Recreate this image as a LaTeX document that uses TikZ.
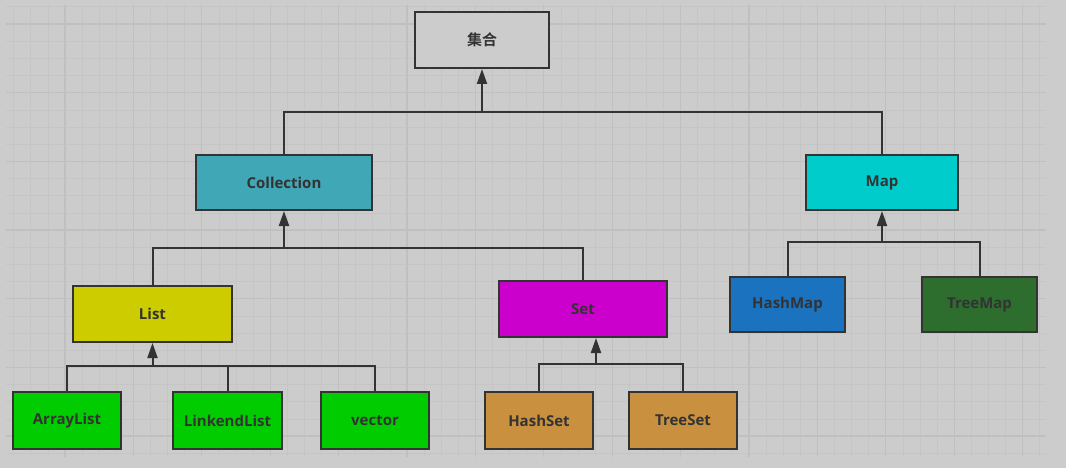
\documentclass[tikz,border=0pt]{standalone}
\usepackage{fontspec}
\setmainfont{Open Sans}
\newfontfamily\cjk{Noto Sans CJK SC}[BoldFont={* Bold}]
\usetikzlibrary{arrows.meta}

\definecolor{bgc}{HTML}{CCCCCC}
\definecolor{gridminor}{HTML}{C5C5C5}
\definecolor{gridmajor}{HTML}{C0C0C0}
\definecolor{linec}{HTML}{333333}
\definecolor{collc}{HTML}{3FA7B6}
\definecolor{mapc}{HTML}{00CCCC}
\definecolor{listc}{HTML}{CCCC00}
\definecolor{setc}{HTML}{CC00CC}
\definecolor{hmapc}{HTML}{1B72BF}
\definecolor{tmapc}{HTML}{2D6E2F}
\definecolor{greenc}{HTML}{00CC00}
\definecolor{orangec}{HTML}{C9913F}

\tikzset{
  box/.style={draw=linec, line width=2pt, text=linec, inner sep=0pt,
    font=\fontsize{15}{17}\selectfont\bfseries},
  link/.style={draw=linec, line width=2pt},
  up/.style={link, -{Triangle[width=10pt,length=15pt]}}
}

\begin{document}
\begin{tikzpicture}[x=1pt, y=-1pt]
  % background
  \useasboundingbox (0,0) rectangle (1066,468);
  \fill[bgc] (0,0) rectangle (1066,468);

  % grid
  \foreach \i in {0,...,60} {
    \pgfmathsetmacro{\gx}{13.8+17.1*\i}
    \draw[gridminor, line width=1pt] (\gx,5) -- (\gx,457);
  }
  \foreach \i in {0,...,26} {
    \pgfmathsetmacro{\gy}{7+17.17*\i}
    \draw[gridminor, line width=1pt] (6,\gy) -- (1046,\gy);
  }
  \foreach \i in {0,...,14} {
    \pgfmathsetmacro{\gx}{65+68.4*\i}
    \draw[gridmajor, line width=1.2pt] (\gx,5) -- (\gx,457);
  }
  \foreach \i in {0,...,6} {
    \pgfmathsetmacro{\gy}{24+68.67*\i}
    \draw[gridmajor, line width=1.2pt] (6,\gy) -- (1046,\gy);
  }

  % boxes
  \node[box, fill=bgc, minimum width=134, minimum height=56] (top) at (482,40) {\cjk\bfseries 集合};
  \node[box, fill=collc, minimum width=176, minimum height=55] (coll) at (284,182.5) {Collection};
  \node[box, fill=mapc, minimum width=152, minimum height=55] (map) at (882,182.5) {Map};
  \node[box, fill=listc, minimum width=159, minimum height=56] (list) at (152.5,314) {List};
  \node[box, fill=setc, minimum width=168, minimum height=56] (set) at (583,309) {Set};
  \node[box, fill=hmapc, minimum width=115, minimum height=55] (hmap) at (787.5,304.5) {HashMap};
  \node[box, fill=tmapc, minimum width=115, minimum height=55] (tmap) at (979.5,304.5) {TreeMap};
  \node[box, fill=greenc, minimum width=108, minimum height=57] (alist) at (67,420.5) {ArrayList};
  \node[box, fill=greenc, minimum width=109, minimum height=57] (llist) at (227.5,420.5) {LinkendList};
  \node[box, fill=greenc, minimum width=108, minimum height=57] (vec) at (375,420.5) {vector};
  \node[box, fill=orangec, minimum width=108, minimum height=57] (hset) at (539,420.5) {HashSet};
  \node[box, fill=orangec, minimum width=108, minimum height=57] (tset) at (683,420.5) {TreeSet};

  % junctions
  \coordinate (j1) at (482,112);
  \coordinate (j2) at (284,248);
  \coordinate (j3) at (152.5,366);
  \coordinate (j4) at (596,364);
  \coordinate (j5) at (882,242);

  % connectors
  \draw[link] (coll.north) |- (j1) -| (map.north);
  \draw[up] (j1) -- (top.south);

  \draw[link] (list.north) |- (j2) -| (set.north);
  \draw[up] (j2) -- (coll.south);

  \draw[link] (alist.north) |- (j3) -| (vec.north);
  \draw[link] (llist.north) -- (llist.north |- j3);
  \draw[up] (j3) -- (list.south);

  \draw[link] (hset.north) |- (j4) -| (tset.north);
  \draw[up] (j4) -- (j4 |- set.south);

  \draw[link] (hmap.north) |- (j5) -| (tmap.north);
  \draw[up] (j5) -- (map.south);
\end{tikzpicture}
\end{document}
